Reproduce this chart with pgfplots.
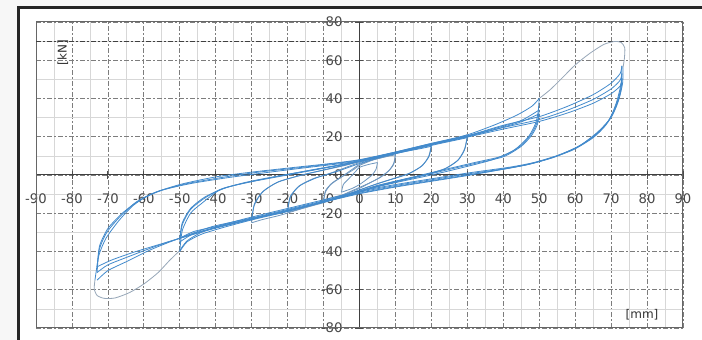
\documentclass[border=0pt]{standalone}
\usepackage{pgfplots}
\pgfplotsset{compat=1.18}
\usepackage{fontspec}
\setmainfont{DejaVu Sans}
\definecolor{hyst}{RGB}{66,138,204}
\definecolor{hystl}{RGB}{110,150,190}
\definecolor{envl}{RGB}{150,166,184}
\definecolor{gridmaj}{RGB}{125,125,125}
\definecolor{gridmin}{RGB}{215,215,215}
\begin{document}
\begin{tikzpicture}
\fill[gray!6] (0,0) rectangle (351pt,170pt);
\fill[white] (9pt,0) rectangle (351pt,166pt);
\draw[line width=1.5pt, black!85] (9pt,-2pt) -- (9pt,166pt) -- (353pt,166pt);
\begin{axis}[
  at={(18pt,6pt)}, anchor=south west,
  scale only axis, width=323.5pt, height=153pt,
  xmin=-90, xmax=90, ymin=-80, ymax=80,
  axis lines=middle,
  axis line style={-, black!75, line width=0.5pt},
  hide obscured x ticks=false, hide obscured y ticks=false,
  xtick={-90,-80,...,90}, ytick={-80,-60,...,80},
  minor x tick num=1, minor y tick num=1,
  grid=both,
  major grid style={gridmaj, line width=0.35pt, dash pattern=on 2.5pt off 1.2pt on 0.6pt off 1.2pt},
  minor grid style={gridmin, line width=0.35pt},
  major tick length=4pt, minor tick length=0pt, tick align=center,
  tick style={black!70, line width=0.4pt},
  /pgf/number format/assume math mode=true,
  ticklabel style={font=\fontsize{6.6}{8}\selectfont, text=black!72},
  x tick label style={yshift=-4pt},
  y tick label style={xshift=-3pt},
  clip=false,
  smooth, tension=0.4,
]
\draw[black!60, line width=0.5pt] (rel axis cs:0,0) rectangle (rel axis cs:1,1);
\draw[black!75, line width=0.5pt, dash pattern=on 2.5pt off 1.2pt on 0.6pt off 1.2pt] (axis cs:-90,70) -- (axis cs:90,70);
\node[rotate=90, font=\fontsize{6}{7}\selectfont, text=black!80] at (axis cs:-82.5,64) {[kN]};
\node[font=\fontsize{6}{7}\selectfont, text=black!80] at (axis cs:78.6,-73.2) {[mm]};

% virgin envelope excursions
\addplot[envl, line width=0.4pt] coordinates {(50,40) (53,44.5) (56,50) (60,57.5) (64,63.5) (68,68.3) (71,69.8) (72.8,69.3) (73.8,66.5) (73.7,61) (73.3,56)};
\addplot[envl, line width=0.4pt] coordinates {(-50,-39.5) (-53,-45) (-56,-51) (-60,-57) (-64,-61.5) (-68,-64.3) (-71,-64.5) (-73,-63) (-73.8,-59.5) (-73.6,-55)};

% +-5 mm
\addplot[hystl, line width=0.4pt] coordinates {(-5,-9) (-4.5,-5) (-3,-2) (-1,2) (0,4) (2.5,5.5) (5,6.5)};
\addplot[hystl, line width=0.4pt] coordinates {(5,6.5) (4.6,3) (3.5,0) (1.5,-3) (0,-5) (-2,-7) (-5,-9)};
% +-10 mm
\addplot[hystl, line width=0.4pt] coordinates {(-10,-14) (-9.5,-9) (-8,-5) (-5,-1) (-2,3) (0,5.5) (3,7.5) (6,9) (9,10.5) (10,11.5)};
\addplot[hystl, line width=0.4pt] coordinates {(10,11.5) (9.6,6.5) (8.3,2.5) (6,-1) (3,-4) (0,-6.5) (-3,-9) (-6,-11.5) (-9,-13.5) (-10,-14)};
\addplot[hystl, line width=0.4pt] coordinates {(-10,-13) (-9.4,-8) (-7.5,-4) (-4.5,-0.5) (-1.5,3) (0,5) (4,8) (8,9.8) (10,10.5)};
\addplot[hystl, line width=0.4pt] coordinates {(10,10.5) (9.5,5.5) (8,2) (5.5,-1.5) (2.5,-4.5) (0,-7) (-4,-10) (-8,-12) (-10,-13)};
% +-20 mm
\addplot[hystl, line width=0.4pt] coordinates {(-20,-19.5) (-19.3,-12) (-17,-6) (-13,-2) (-8,1) (-3,4.5) (0,6.5) (5,9) (10,11.5) (15,13.8) (20,16)};
\addplot[hystl, line width=0.4pt] coordinates {(20,16) (19.3,10) (17.5,5) (14,1) (10,-1.5) (5,-4.5) (0,-8) (-5,-11.5) (-10,-14.5) (-15,-17) (-20,-19.5)};
\addplot[hyst, line width=0.4pt] coordinates {(-20,-18.5) (-19.2,-11) (-16.5,-5.5) (-12,-1.5) (-6,2) (0,6) (6,9.3) (12,12) (17,13.8) (20,15)};
\addplot[hyst, line width=0.4pt] coordinates {(20,15) (19.3,9.5) (17.2,4.5) (13.5,0.5) (8,-2.8) (3,-5.8) (0,-7.8) (-6,-11.8) (-12,-15) (-17,-17.3) (-20,-18.5)};
% +-30 mm
\addplot[hystl, line width=0.4pt] coordinates {(-30,-25) (-29.3,-16) (-27,-9) (-23,-4) (-17,-0.5) (-10,2.5) (-4,5) (0,7) (8,10.5) (15,13.8) (22,17) (27,19.3) (30,21)};
\addplot[hystl, line width=0.4pt] coordinates {(30,21) (29.3,14) (27.5,8) (24,3.5) (19,0.5) (12,-2.5) (5,-5.5) (0,-8.5) (-8,-13) (-15,-17) (-22,-21) (-27,-23.3) (-30,-25)};
\addplot[hyst, line width=0.4pt] coordinates {(-30,-23) (-29.2,-15) (-26.8,-8.5) (-22.5,-3.5) (-16,0) (-8,3.5) (0,7) (8,10.3) (15,13.3) (22,16.3) (27,18.3) (30,19.5)};
\addplot[hyst, line width=0.4pt] coordinates {(30,19.5) (29.2,13) (27.3,7.5) (23.5,3) (18,0) (10,-3.5) (3,-6.8) (0,-8.5) (-8,-12.8) (-15,-16.5) (-22,-20) (-27,-21.8) (-30,-23)};
% +-50 mm
\addplot[hyst, line width=0.4pt] coordinates {(-50,-40) (-49.3,-29) (-47,-20) (-44,-15) (-39,-8) (-32,-4) (-24,-1) (-15,2) (-6,5) (0,7.5) (10,12) (20,16.5) (30,21) (38,26.5) (44,31.5) (48,36) (50,40)};
\addplot[hyst, line width=0.4pt] coordinates {(50,40) (49.7,33) (49,27) (47,20) (43,13) (37,8) (30,4.5) (20,0) (10,-4) (0,-8.5) (-10,-14) (-20,-19) (-30,-23.5) (-38,-27.5) (-44,-31) (-48,-35) (-50,-40)};
\addplot[hyst, line width=0.4pt] coordinates {(-50,-35) (-49.3,-26) (-47,-18) (-43,-12) (-38,-7) (-30,-3.5) (-20,0) (-10,3.5) (0,7) (10,11.5) (20,16) (30,20.5) (38,24.5) (45,28.5) (50,34)};
\addplot[hyst, line width=0.4pt] coordinates {(50,34) (49.5,28) (48,22) (45,15.5) (40,10) (32,6.5) (24,3) (15,-1) (5,-5.5) (0,-8.5) (-10,-14) (-20,-18.5) (-30,-23) (-40,-27.5) (-46,-30.5) (-50,-35)};
\addplot[hyst, line width=0.4pt] coordinates {(-50,-33) (-49.3,-25) (-47,-17.5) (-43,-11.5) (-37,-6.5) (-29,-3) (-20,0.3) (-10,3.8) (0,7.2) (10,11.6) (20,16) (30,20.3) (38,24) (45,27.8) (50,32)};
\addplot[hyst, line width=0.4pt] coordinates {(50,32) (49.5,26.5) (48,21) (45,15) (40,9.5) (32,6) (24,2.5) (15,-1.5) (5,-6) (0,-9) (-10,-14.2) (-20,-18.6) (-30,-22.8) (-40,-27) (-46,-29.5) (-50,-33)};
% +-73 mm
\addplot[hyst, line width=0.4pt] coordinates {(73.3,56) (73.2,48) (72,38.5) (70,30) (66.5,22.5) (61.5,15.5) (55.5,10.5) (48.5,6.5) (41.5,4) (30,1) (20,-2) (10,-5) (0,-8.5) (-10,-13) (-20,-17.5) (-30,-22) (-38,-26) (-44,-30) (-48,-34.5) (-50,-39.5)};
\addplot[hyst, line width=0.4pt] coordinates {(-73.6,-55) (-72.5,-42) (-70.5,-33) (-67,-24) (-63,-16) (-58,-10) (-50,-5) (-40,-1) (-30,1.5) (-18,4) (-8,6) (0,8) (10,12) (20,16.5) (30,20.5) (40,26) (50,30.5) (58,36) (65,42) (70,48) (72.5,53) (73,57)};
\addplot[hyst, line width=0.4pt] coordinates {(73,57) (72.8,48) (71.5,38) (69.5,29) (66,22) (61,15) (55,10) (48,6) (41,3.5) (30,0.5) (20,-2.5) (10,-5.5) (0,-9) (-10,-13.5) (-20,-18) (-30,-22.5) (-41,-27) (-50,-33) (-58,-39) (-64.5,-45) (-70,-50) (-73,-55)};
\addplot[hyst, line width=0.4pt] coordinates {(-73,-51) (-72.4,-39) (-70.3,-30) (-66.5,-21.5) (-62,-14) (-56,-8.5) (-48,-4.5) (-38,-1.2) (-28,1.5) (-16,4) (-6,6.2) (0,7.8) (10,11.8) (20,16) (30,20) (40,24.8) (50,29) (58,34) (65,39.5) (70,45) (72.5,49.5) (73,53)};
\addplot[hyst, line width=0.4pt] coordinates {(73,53) (72.7,45) (71.3,36) (69,27.5) (65.5,20.5) (60,14) (54,9.2) (47,5.5) (40,3) (30,0) (20,-3) (10,-6) (0,-9.5) (-10,-14) (-20,-18.5) (-30,-23) (-40,-27.5) (-49,-32.5) (-57,-37.5) (-64,-42.5) (-70,-47) (-73,-51)};
\addplot[hyst, line width=0.4pt] coordinates {(-73,-48) (-72.3,-37) (-70,-28) (-66,-20) (-61,-13) (-55,-8) (-47,-4.5) (-37,-1.5) (-27,1) (-15,3.8) (-5,6) (0,7.5) (10,11.5) (20,15.8) (30,19.8) (40,24) (50,28) (58,32.5) (65,37.5) (70,42.5) (72.5,46.5) (73,50)};
\addplot[hyst, line width=0.4pt] coordinates {(73,50) (72.6,43) (71,34) (68.5,26) (65,19.5) (59.5,13.2) (53,8.7) (46,5.2) (39,2.7) (30,-0.3) (20,-3.3) (10,-6.3) (0,-9.8) (-10,-14.2) (-20,-18.7) (-30,-23.2) (-40,-27.8) (-48,-32) (-56,-36.5) (-63,-40.5) (-69,-44.5) (-73,-48)};
\end{axis}
\pgfresetboundingbox
\path (0,0) rectangle (351pt,170pt);
\end{tikzpicture}
\end{document}
